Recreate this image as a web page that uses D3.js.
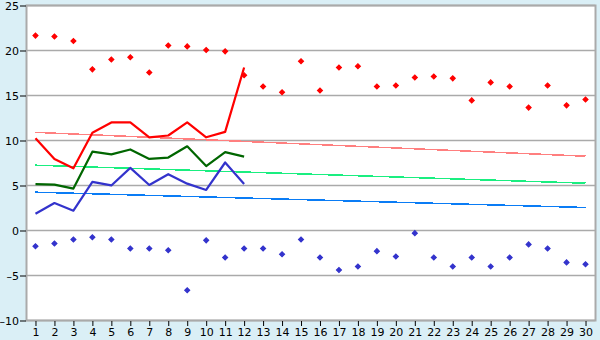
<!DOCTYPE html>
<html>
<head>
<meta charset="utf-8">
<script src="https://cdn.jsdelivr.net/npm/d3@7"></script>
<style>
  body { margin: 0; background: #daeff6; }
  svg { display: block; }
  .tick text { font-family: "DejaVu Sans", Verdana, sans-serif; font-size: 11px; fill: #000; }
</style>
</head>
<body>
<div id="chart"></div>
<script>
// days of the month
var days = d3.range(1, 31)

// daily max / min (markers)
var maxTemps = [21.6, 21.5, 21.0, 17.85, 18.95, 19.2, 17.5, 20.5, 20.4, 20.0,
                19.85, 17.2, 15.95, 15.3, 18.75, 15.5, 18.05, 18.2, 15.95, 16.05,
                16.95, 17.05, 16.85, 14.4, 16.4, 15.95, 13.6, 16.05, 13.85, 14.5]
var minTemps = [-1.8, -1.5, -1.05, -0.8, -1.05, -2.05, -2.05, -2.25, -6.7, -1.15,
                -3.05, -2.05, -2.05, -2.7, -1.05, -3.05, -4.45, -4.05, -2.35, -2.95,
                -0.35, -3.05, -4.05, -3.05, -4.05, -3.05, -1.6, -2.05, -3.6, -3.8]

// observed lines, days 1-12
var maxLine = [10.2, 7.9, 6.85, 10.8, 11.95, 11.95, 10.3, 10.5, 11.95, 10.3, 10.9, 18.05]
var meanLine = [5.1, 5.05, 4.6, 8.7, 8.4, 8.95, 7.9, 8.05, 9.3, 7.1, 8.65, 8.15]
var minLine = [1.8, 3.0, 2.15, 5.35, 4.95, 6.9, 5.0, 6.2, 5.15, 4.45, 7.5, 5.1]

// normals at day 1 and day 30
var maxNormal = [10.85, 8.2]
var meanNormal = [7.2, 5.2]
var minNormal = [4.2, 2.5]

var yTicks = [-10, -5, 0, 5, 10, 15, 20, 25]

var width = 600, height = 340
var plotL = 26, plotR = 595, plotT = 5, plotB = 320

var svg = d3.select("#chart").append("svg")
    .attr("width", width).attr("height", height)

var x = d3.scalePoint().domain(days).range([plotL, plotR]).padding(0.5)
var y = d3.scaleLinear().domain([-10, 25]).range([plotB, plotT])

// plot background
svg.append("rect")
    .attr("x", plotL).attr("y", plotT)
    .attr("width", plotR - plotL).attr("height", plotB - plotT)
    .attr("fill", "#fff")

// grid
svg.append("g").selectAll("line")
    .data(yTicks)
    .enter().append("line")
    .attr("x1", plotL).attr("x2", plotR)
    .attr("y1", function(d) { return y(d) + 0.5 })
    .attr("y2", function(d) { return y(d) + 0.5 })
    .attr("stroke", "#aaa").attr("stroke-width", 1.5)

// border
svg.append("rect")
    .attr("x", plotL + 0.5).attr("y", plotT + 0.5)
    .attr("width", plotR - plotL).attr("height", plotB - plotT)
    .attr("fill", "none").attr("stroke", "#aaa").attr("stroke-width", 2)

var yAxis = svg.append("g")
    .attr("transform", "translate(" + plotL + ",0.5)")
    .call(d3.axisLeft(y).tickValues(yTicks).tickSize(6).tickPadding(1)
        .tickFormat(function(d) { return d < 0 ? "\u2013" + (-d) : d }))
yAxis.select(".domain").remove()
yAxis.selectAll(".tick line").attr("stroke", "#000")

var xAxis = svg.append("g")
    .attr("transform", "translate(0," + (plotB + 1) + ")")
    .call(d3.axisBottom(x).tickSize(5).tickPadding(2))
xAxis.select(".domain").remove()
xAxis.selectAll(".tick line").attr("stroke", "#000")

function normalLine(vals, color) {
  svg.append("line")
    .attr("x1", x(days[0])).attr("x2", x(days[days.length - 1]))
    .attr("y1", y(vals[0])).attr("y2", y(vals[1]))
    .attr("stroke", color).attr("stroke-width", 1.5)
    .attr("shape-rendering", "crispEdges")
}
normalLine(maxNormal, "#ff7f7f")
normalLine(meanNormal, "#1aee80")
normalLine(minNormal, "#0a7cf5")

var line = d3.line()
    .x(function(d, i) { return x(days[i]) })
    .y(function(d) { return y(d) })

function obsLine(vals, color) {
  svg.append("path")
    .datum(vals)
    .attr("d", line)
    .attr("fill", "none")
    .attr("stroke", color).attr("stroke-width", 2.2)
    .attr("stroke-linejoin", "round")
}
obsLine(minLine, "#3333cc")
obsLine(meanLine, "#006600")
obsLine(maxLine, "#ff0000")

// small square turned 45 degrees
var diamond = d3.symbol().type(d3.symbolSquare).size(12)

function markers(vals, color) {
  svg.append("g").selectAll("path")
    .data(vals)
    .enter().append("path")
    .attr("d", diamond)
    .attr("transform", function(d, i) { return "translate(" + x(days[i]) + "," + y(d) + ") rotate(45)" })
    .attr("fill", color)
    .attr("stroke", color).attr("stroke-width", 1.2)
}
markers(maxTemps, "#ff0000")
markers(minTemps, "#3333cc")
</script>
</body>
</html>
